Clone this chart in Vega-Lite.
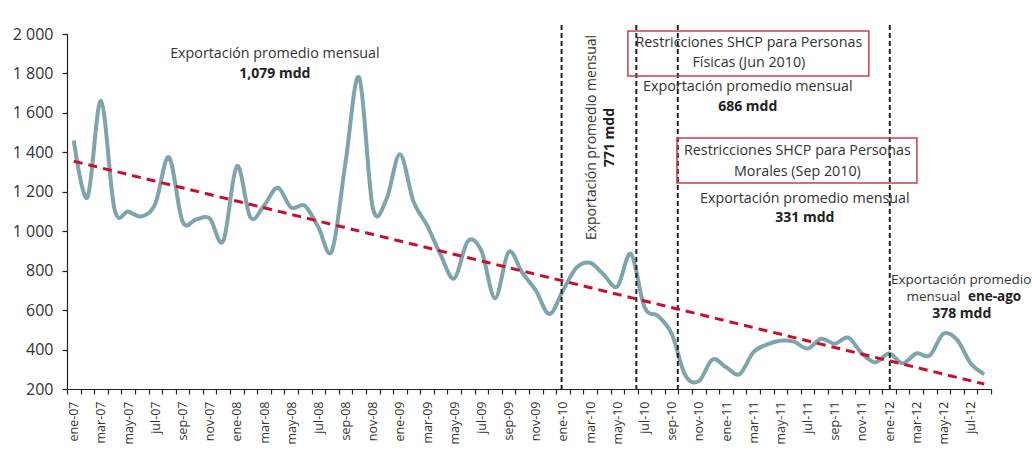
{
  "$schema": "https://vega.github.io/schema/vega-lite/v6.json",
  "width": 924,
  "height": 355,
  "autosize": {"type": "none"},
  "padding": {"left": 67, "top": 34, "right": 41, "bottom": 84},
  "background": "white",
  "config": {
    "view": {"stroke": null},
    "font": "Open Sans",
    "axis": {"domainColor": "#222", "tickColor": "#222", "labelColor": "#333", "labelFont": "Open Sans", "grid": false, "domainWidth": 1.2, "tickWidth": 1.2}
  },
  "datasets": {
    "serie": [
      {"i": 0, "mes": "ene-07", "v": 1460}, {"i": 1, "mes": "feb-07", "v": 1170}, {"i": 2, "mes": "mar-07", "v": 1660},
      {"i": 3, "mes": "abr-07", "v": 1110}, {"i": 4, "mes": "may-07", "v": 1100}, {"i": 5, "mes": "jun-07", "v": 1075},
      {"i": 6, "mes": "jul-07", "v": 1140}, {"i": 7, "mes": "ago-07", "v": 1375}, {"i": 8, "mes": "sep-07", "v": 1050},
      {"i": 9, "mes": "oct-07", "v": 1060}, {"i": 10, "mes": "nov-07", "v": 1065}, {"i": 11, "mes": "dic-07", "v": 950},
      {"i": 12, "mes": "ene-08", "v": 1330}, {"i": 13, "mes": "feb-08", "v": 1070}, {"i": 14, "mes": "mar-08", "v": 1130},
      {"i": 15, "mes": "abr-08", "v": 1220}, {"i": 16, "mes": "may-08", "v": 1120}, {"i": 17, "mes": "jun-08", "v": 1130},
      {"i": 18, "mes": "jul-08", "v": 1020}, {"i": 19, "mes": "ago-08", "v": 900}, {"i": 20, "mes": "sep-08", "v": 1350},
      {"i": 21, "mes": "oct-08", "v": 1780}, {"i": 22, "mes": "nov-08", "v": 1120}, {"i": 23, "mes": "dic-08", "v": 1160},
      {"i": 24, "mes": "ene-09", "v": 1390}, {"i": 25, "mes": "feb-09", "v": 1150}, {"i": 26, "mes": "mar-09", "v": 1030},
      {"i": 27, "mes": "abr-09", "v": 880}, {"i": 28, "mes": "may-09", "v": 760}, {"i": 29, "mes": "jun-09", "v": 950},
      {"i": 30, "mes": "jul-09", "v": 900}, {"i": 31, "mes": "ago-09", "v": 660}, {"i": 32, "mes": "sep-09", "v": 895},
      {"i": 33, "mes": "oct-09", "v": 790}, {"i": 34, "mes": "nov-09", "v": 700}, {"i": 35, "mes": "dic-09", "v": 580},
      {"i": 36, "mes": "ene-10", "v": 700}, {"i": 37, "mes": "feb-10", "v": 815}, {"i": 38, "mes": "mar-10", "v": 840},
      {"i": 39, "mes": "abr-10", "v": 780}, {"i": 40, "mes": "may-10", "v": 720}, {"i": 41, "mes": "jun-10", "v": 885},
      {"i": 42, "mes": "jul-10", "v": 615}, {"i": 43, "mes": "ago-10", "v": 570}, {"i": 44, "mes": "sep-10", "v": 480},
      {"i": 45, "mes": "oct-10", "v": 270}, {"i": 46, "mes": "nov-10", "v": 240}, {"i": 47, "mes": "dic-10", "v": 350},
      {"i": 48, "mes": "ene-11", "v": 310}, {"i": 49, "mes": "feb-11", "v": 275}, {"i": 50, "mes": "mar-11", "v": 385},
      {"i": 51, "mes": "abr-11", "v": 425}, {"i": 52, "mes": "may-11", "v": 445}, {"i": 53, "mes": "jun-11", "v": 440},
      {"i": 54, "mes": "jul-11", "v": 405}, {"i": 55, "mes": "ago-11", "v": 455}, {"i": 56, "mes": "sep-11", "v": 430},
      {"i": 57, "mes": "oct-11", "v": 460}, {"i": 58, "mes": "nov-11", "v": 380}, {"i": 59, "mes": "dic-11", "v": 335},
      {"i": 60, "mes": "ene-12", "v": 380}, {"i": 61, "mes": "feb-12", "v": 330}, {"i": 62, "mes": "mar-12", "v": 380},
      {"i": 63, "mes": "abr-12", "v": 370}, {"i": 64, "mes": "may-12", "v": 480}, {"i": 65, "mes": "jun-12", "v": 450},
      {"i": 66, "mes": "jul-12", "v": 330}, {"i": 67, "mes": "ago-12", "v": 275}
    ],
    "tendencia": [{"i": 0, "v": 1355}, {"i": 67, "v": 225}],
    "eventos": [{"evento": "ene-10", "i": 35.9}, {"evento": "jun-10", "i": 41.4}, {"evento": "sep-10", "i": 44.45}, {"evento": "ene-12", "i": 60.05}],
    "cajas": [
      {"i": 40.78, "i2": 58.51, "v": 2015, "v2": 1787},
      {"i": 44.39, "i2": 62.05, "v": 1473, "v2": 1244}
    ],
    "textos": [
      {"grupo": "centro", "txt": "Exportación promedio mensual", "i": 14.8, "v": 1899},
      {"grupo": "centro_b", "txt": "1,079 mdd", "i": 14.8, "v": 1797},
      {"grupo": "vertical", "txt": "Exportación promedio mensual", "i": 38.13, "v": 1475},
      {"grupo": "vertical_b", "txt": "771 mdd", "i": 39.46, "v": 1475},
      {"grupo": "centro", "txt": "Restricciones SHCP para Personas", "i": 49.68, "v": 1956},
      {"grupo": "centro", "txt": "Físicas (Jun 2010)", "i": 49.68, "v": 1851},
      {"grupo": "centro", "txt": "Exportación promedio mensual", "i": 49.6, "v": 1730},
      {"grupo": "centro_b", "txt": "686 mdd", "i": 49.6, "v": 1628},
      {"grupo": "centro", "txt": "Restricciones SHCP para Personas", "i": 53.25, "v": 1407},
      {"grupo": "centro", "txt": "Morales (Sep 2010)", "i": 53.25, "v": 1299},
      {"grupo": "centro", "txt": "Exportación promedio mensual", "i": 53.8, "v": 1162},
      {"grupo": "centro_b", "txt": "331 mdd", "i": 53.8, "v": 1065},
      {"grupo": "centro_p", "txt": "Exportación promedio", "i": 65.3, "v": 753},
      {"grupo": "derecha", "txt": "mensual", "i": 65.25, "v": 668},
      {"grupo": "izquierda_b", "txt": "ene-ago", "i": 65.8, "v": 668},
      {"grupo": "centro_b", "txt": "378 mdd", "i": 65.35, "v": 579}
    ]
  },
  "encoding": {
    "x": {
      "field": "i", "type": "quantitative",
      "scale": {"domain": [-0.5, 67.5], "nice": false, "zero": false},
      "axis": {
        "title": null,
        "values": [-0.5, 0.5, 1.5, 2.5, 3.5, 4.5, 5.5, 6.5, 7.5, 8.5, 9.5, 10.5, 11.5, 12.5, 13.5, 14.5, 15.5, 16.5, 17.5, 18.5, 19.5, 20.5, 21.5, 22.5, 23.5, 24.5, 25.5, 26.5, 27.5, 28.5, 29.5, 30.5, 31.5, 32.5, 33.5, 34.5, 35.5, 36.5, 37.5, 38.5, 39.5, 40.5, 41.5, 42.5, 43.5, 44.5, 45.5, 46.5, 47.5, 48.5, 49.5, 50.5, 51.5, 52.5, 53.5, 54.5, 55.5, 56.5, 57.5, 58.5, 59.5, 60.5, 61.5, 62.5, 63.5, 64.5, 65.5, 66.5, 67.5],
        "labelExpr": "((datum.value + 0.5) % 2 == 0 && datum.value < 67) ? (['ene','feb','mar','abr','may','jun','jul','ago','sep','oct','nov','dic'][(datum.value + 0.5) % 12] + '-' + ((floor((datum.value + 0.5) / 12) + 7) < 10 ? '0' : '') + (floor((datum.value + 0.5) / 12) + 7)) : ''",
        "labelAngle": -90,
        "labelOffset": 6.8,
        "labelFlush": false,
        "labelOverlap": false,
        "labelFontSize": 12.5,
        "labelPadding": 7,
        "tickSize": 5
      }
    }
  },
  "layer": [
    {
      "data": {"name": "serie"},
      "mark": {"type": "line", "color": "#7EA5AE", "strokeWidth": 4, "interpolate": "cardinal"},
      "encoding": {
        "y": {"field": "v", "type": "quantitative", "scale": {"domain": [200, 2000], "nice": false, "zero": false},
          "axis": {"title": null, "values": [200, 400, 600, 800, 1000, 1200, 1400, 1600, 1800, 2000], "labelExpr": "replace(format(datum.value, ','), ',', ' ')", "labelFontSize": 16, "labelPadding": 9, "tickSize": 5}}
      }
    },
    {
      "data": {"name": "eventos"},
      "mark": {"type": "rule", "color": "#222", "strokeWidth": 2, "strokeDash": [5, 3]},
      "encoding": {
        "y": {"datum": 2046, "type": "quantitative", "scale": {"domain": [200, 2000], "nice": false, "zero": false},
          "axis": {"title": null, "values": [200, 400, 600, 800, 1000, 1200, 1400, 1600, 1800, 2000], "labelExpr": "replace(format(datum.value, ','), ',', ' ')", "labelFontSize": 16, "labelPadding": 9, "tickSize": 5}},
        "y2": {"datum": 200}
      }
    },
    {
      "data": {"name": "tendencia"},
      "mark": {"type": "line", "color": "#C8102E", "strokeWidth": 3, "strokeDash": [9, 6]},
      "encoding": {
        "y": {"field": "v", "type": "quantitative", "scale": {"domain": [200, 2000], "nice": false, "zero": false},
          "axis": {"title": null, "values": [200, 400, 600, 800, 1000, 1200, 1400, 1600, 1800, 2000], "labelExpr": "replace(format(datum.value, ','), ',', ' ')", "labelFontSize": 16, "labelPadding": 9, "tickSize": 5}}
      }
    },
    {
      "data": {"name": "cajas"},
      "mark": {"type": "rect", "fill": null, "stroke": "#C8404F", "strokeWidth": 1.5},
      "encoding": {
        "x2": {"field": "i2"},
        "y": {"field": "v", "type": "quantitative", "scale": {"domain": [200, 2000], "nice": false, "zero": false},
          "axis": {"title": null, "values": [200, 400, 600, 800, 1000, 1200, 1400, 1600, 1800, 2000], "labelExpr": "replace(format(datum.value, ','), ',', ' ')", "labelFontSize": 16, "labelPadding": 9, "tickSize": 5}},
        "y2": {"field": "v2"}
      }
    },
    {
      "data": {"name": "textos"},
      "transform": [{"filter": "datum.grupo == 'centro'"}],
      "mark": {"type": "text", "align": "center", "baseline": "middle", "fontSize": 14.3, "color": "#333"},
      "encoding": {
        "y": {"field": "v", "type": "quantitative", "scale": {"domain": [200, 2000], "nice": false, "zero": false},
          "axis": {"title": null, "values": [200, 400, 600, 800, 1000, 1200, 1400, 1600, 1800, 2000], "labelExpr": "replace(format(datum.value, ','), ',', ' ')", "labelFontSize": 16, "labelPadding": 9, "tickSize": 5}},
        "text": {"field": "txt"}
      }
    },
    {
      "data": {"name": "textos"},
      "transform": [{"filter": "datum.grupo == 'centro_p'"}],
      "mark": {"type": "text", "align": "center", "baseline": "middle", "fontSize": 13.5, "color": "#333"},
      "encoding": {
        "y": {"field": "v", "type": "quantitative", "scale": {"domain": [200, 2000], "nice": false, "zero": false},
          "axis": {"title": null, "values": [200, 400, 600, 800, 1000, 1200, 1400, 1600, 1800, 2000], "labelExpr": "replace(format(datum.value, ','), ',', ' ')", "labelFontSize": 16, "labelPadding": 9, "tickSize": 5}},
        "text": {"field": "txt"}
      }
    },
    {
      "data": {"name": "textos"},
      "transform": [{"filter": "datum.grupo == 'centro_b'"}],
      "mark": {"type": "text", "align": "center", "baseline": "middle", "fontSize": 14, "fontWeight": "bold", "color": "#222"},
      "encoding": {
        "y": {"field": "v", "type": "quantitative", "scale": {"domain": [200, 2000], "nice": false, "zero": false},
          "axis": {"title": null, "values": [200, 400, 600, 800, 1000, 1200, 1400, 1600, 1800, 2000], "labelExpr": "replace(format(datum.value, ','), ',', ' ')", "labelFontSize": 16, "labelPadding": 9, "tickSize": 5}},
        "text": {"field": "txt"}
      }
    },
    {
      "data": {"name": "textos"},
      "transform": [{"filter": "datum.grupo == 'vertical'"}],
      "mark": {"type": "text", "align": "center", "baseline": "middle", "fontSize": 14, "angle": 270, "color": "#333"},
      "encoding": {
        "y": {"field": "v", "type": "quantitative", "scale": {"domain": [200, 2000], "nice": false, "zero": false},
          "axis": {"title": null, "values": [200, 400, 600, 800, 1000, 1200, 1400, 1600, 1800, 2000], "labelExpr": "replace(format(datum.value, ','), ',', ' ')", "labelFontSize": 16, "labelPadding": 9, "tickSize": 5}},
        "text": {"field": "txt"}
      }
    },
    {
      "data": {"name": "textos"},
      "transform": [{"filter": "datum.grupo == 'vertical_b'"}],
      "mark": {"type": "text", "align": "center", "baseline": "middle", "fontSize": 14, "angle": 270, "fontWeight": "bold", "color": "#222"},
      "encoding": {
        "y": {"field": "v", "type": "quantitative", "scale": {"domain": [200, 2000], "nice": false, "zero": false},
          "axis": {"title": null, "values": [200, 400, 600, 800, 1000, 1200, 1400, 1600, 1800, 2000], "labelExpr": "replace(format(datum.value, ','), ',', ' ')", "labelFontSize": 16, "labelPadding": 9, "tickSize": 5}},
        "text": {"field": "txt"}
      }
    },
    {
      "data": {"name": "textos"},
      "transform": [{"filter": "datum.grupo == 'derecha'"}],
      "mark": {"type": "text", "align": "right", "baseline": "middle", "fontSize": 13.5, "color": "#333"},
      "encoding": {
        "y": {"field": "v", "type": "quantitative", "scale": {"domain": [200, 2000], "nice": false, "zero": false},
          "axis": {"title": null, "values": [200, 400, 600, 800, 1000, 1200, 1400, 1600, 1800, 2000], "labelExpr": "replace(format(datum.value, ','), ',', ' ')", "labelFontSize": 16, "labelPadding": 9, "tickSize": 5}},
        "text": {"field": "txt"}
      }
    },
    {
      "data": {"name": "textos"},
      "transform": [{"filter": "datum.grupo == 'izquierda_b'"}],
      "mark": {"type": "text", "align": "left", "baseline": "middle", "fontSize": 13.5, "fontWeight": "bold", "color": "#222"},
      "encoding": {
        "y": {"field": "v", "type": "quantitative", "scale": {"domain": [200, 2000], "nice": false, "zero": false},
          "axis": {"title": null, "values": [200, 400, 600, 800, 1000, 1200, 1400, 1600, 1800, 2000], "labelExpr": "replace(format(datum.value, ','), ',', ' ')", "labelFontSize": 16, "labelPadding": 9, "tickSize": 5}},
        "text": {"field": "txt"}
      }
    }
  ]
}
